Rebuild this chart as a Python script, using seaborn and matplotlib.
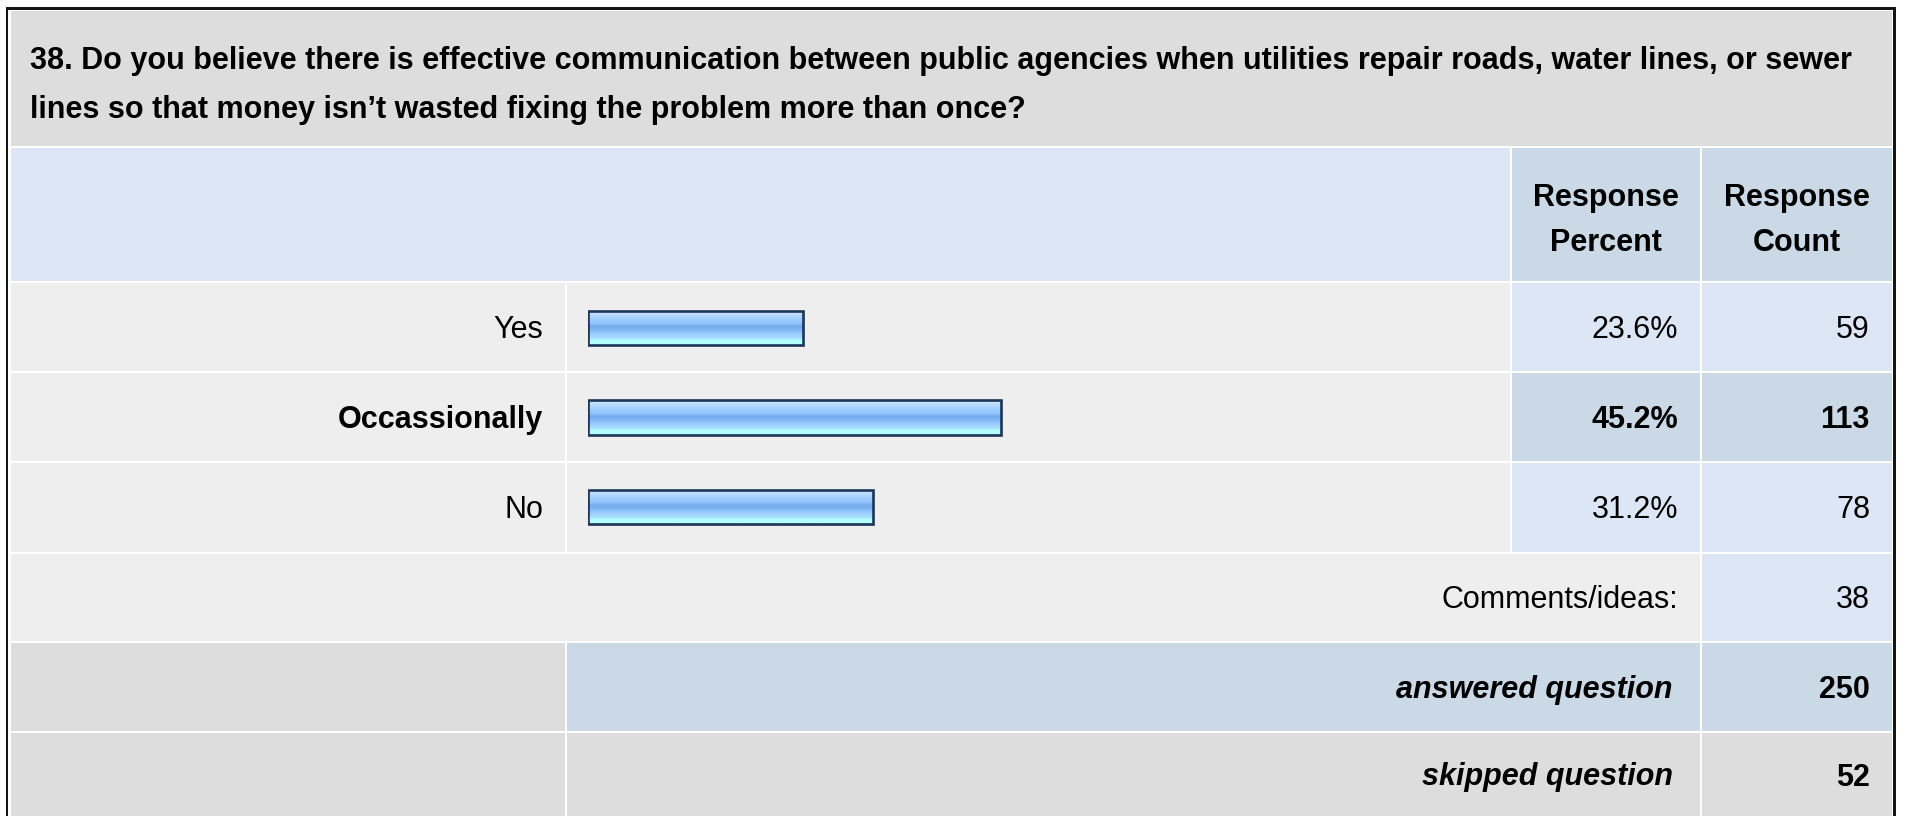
import numpy as np
import matplotlib
matplotlib.use('Agg')
import matplotlib.pyplot as plt
from matplotlib.patches import Rectangle
from matplotlib.colors import LinearSegmentedColormap
import seaborn as sns

# survey data
question_lines = ['38. Do you believe there is effective communication between public agencies when utilities repair roads, water lines, or sewer',
                  'lines so that money isn\u2019t wasted fixing the problem more than once?']
categories = ['Yes', 'Occassionally', 'No']
percents = [23.6, 45.2, 31.2]
counts = [59, 113, 78]
comments_count = 38
answered = 250
skipped = 52

sns.set_style('white')
plt.rcParams['font.family'] = ['Liberation Sans', 'DejaVu Sans']
plt.rcParams['text.color'] = 'black'

GRAY = '#dddddd'
ROW = '#eeeeee'
LBLUE = '#dce6f4'
DBLUE = '#cbd8e6'
FS = 22
DY = 3  # small nudge so glyphs sit in the middle of the cells

W, H = 1907, 816
fig = plt.figure(figsize=(W / 100, H / 100), dpi=100)
bg = fig.add_axes([0, 0, 1, 1])
bg.set_xlim(0, W)
bg.set_ylim(H, 0)
bg.axis('off')

def cell(x0, x1, y0, y1, c):
    bg.add_patch(Rectangle((x0, y0), x1 - x0, y1 - y0, facecolor=c, lw=0))

# outer border (no bottom edge, the picture is cut off)
bg.add_patch(Rectangle((5.5, 7.3), 2.8, H, facecolor='#151515', lw=0))
bg.add_patch(Rectangle((5.5, 7.3), 1893 - 5.5 + 2.8, 2.8, facecolor='#151515', lw=0))
bg.add_patch(Rectangle((1893, 7.3), 2.8, H, facecolor='#151515', lw=0))

L, R = 11, 1892
c_lab, c_bar, c_pct, c_cnt = 565, 567, 1510, 1512
c_pe, c_cs = 1700, 1702
rows = [(148, 281), (283, 371), (373, 461), (463, 552), (554, 641), (643, 731), (733, 830)]

# title
cell(L, R, 11, 146, GRAY)
bg.text(30, 58 + DY, question_lines[0], fontsize=FS, weight='bold', va='center', ha='left')
bg.text(30, 107 + DY, question_lines[1], fontsize=FS, weight='bold', va='center', ha='left')

# header
y0, y1 = rows[0]
cell(L, c_pct, y0, y1, LBLUE)
cell(c_cnt, c_pe, y0, y1, DBLUE)
cell(c_cs, R, y0, y1, DBLUE)
for xc, word in [(1606, 'Percent'), (1797, 'Count')]:
    bg.text(xc, 195 + DY, 'Response', fontsize=FS, weight='bold', ha='center', va='center')
    bg.text(xc, 240 + DY, word, fontsize=FS, weight='bold', ha='center', va='center')

# answer rows
top_i = int(np.argmax(counts))
for i, (cat, p, n) in enumerate(zip(categories, percents, counts)):
    y0, y1 = rows[i + 1]
    yc = (y0 + y1) / 2 + DY
    hl = i == top_i
    cell(L, c_lab, y0, y1, ROW)
    cell(c_bar, c_pct, y0, y1, ROW)
    cell(c_cnt, c_pe, y0, y1, DBLUE if hl else LBLUE)
    cell(c_cs, R, y0, y1, DBLUE if hl else LBLUE)
    w = 'bold' if hl else 'normal'
    bg.text(543, yc, cat, fontsize=FS, weight=w, ha='right', va='center')
    bg.text(1678, yc, f'{p:.1f}%', fontsize=FS, weight=w, ha='right', va='center')
    bg.text(1870, yc, f'{n}', fontsize=FS, weight=w, ha='right', va='center')

# comments row
y0, y1 = rows[4]
cell(L, c_pe, y0, y1, ROW)
cell(c_cs, R, y0, y1, LBLUE)
bg.text(1678, (y0 + y1) / 2 + DY, 'Comments/ideas:', fontsize=FS, ha='right', va='center')
bg.text(1870, (y0 + y1) / 2 + DY, f'{comments_count}', fontsize=FS, ha='right', va='center')

# answered / skipped
for (y0, y1), lab, val, col in [(rows[5], 'answered question', answered, DBLUE),
                                (rows[6], 'skipped question', skipped, GRAY)]:
    yc = (y0 + min(y1, H)) / 2 + DY
    cell(L, c_lab, y0, y1, GRAY)
    cell(c_bar, c_pe, y0, y1, col)
    cell(c_cs, R, y0, y1, col)
    bg.text(1673, yc, lab, fontsize=FS, weight='bold', style='italic', ha='right', va='center')
    bg.text(1870, yc, f'{val}', fontsize=FS, weight='bold', ha='right', va='center')

# bars
bx0, bx1 = 588, 1501
by0, by1 = 283, 552
bar_ax = fig.add_axes([bx0 / W, (H - by1) / H, (bx1 - bx0) / W, (by1 - by0) / H])
bar_ax.patch.set_alpha(0)
sns.barplot(x=percents, y=categories, orient='h', ax=bar_ax, width=0.38,
            color='#9ccbff', edgecolor='#1c3559', linewidth=1.9)

grad = LinearSegmentedColormap.from_list('bar', [
    (0.0, '#d4e9ff'), (0.12, '#bcdcff'), (0.25, '#a0ceff'), (0.38, '#92c4fb'),
    (0.46, '#74abeb'), (0.56, '#7fb6f3'), (0.68, '#9ccdff'), (0.8, '#a6dcff'),
    (0.86, '#b4fdff'), (1.0, '#b4ffff')])
gimg = np.linspace(0, 1, 128).reshape(-1, 1)
for patch in bar_ax.patches:
    x = patch.get_x()
    y = patch.get_y()
    w = patch.get_width()
    h = patch.get_height()
    im = bar_ax.imshow(gimg, cmap=grad, aspect='auto', origin='upper',
                       extent=(x, x + w, y + h, y), zorder=1)
    im.set_clip_path(patch)
    patch.set_facecolor('none')
    patch.set_zorder(2)

bar_ax.set_xlim(0, 100)
bar_ax.set_ylim(2.5, -0.5)
bar_ax.axis('off')

fig.savefig('out.png', dpi=100)
